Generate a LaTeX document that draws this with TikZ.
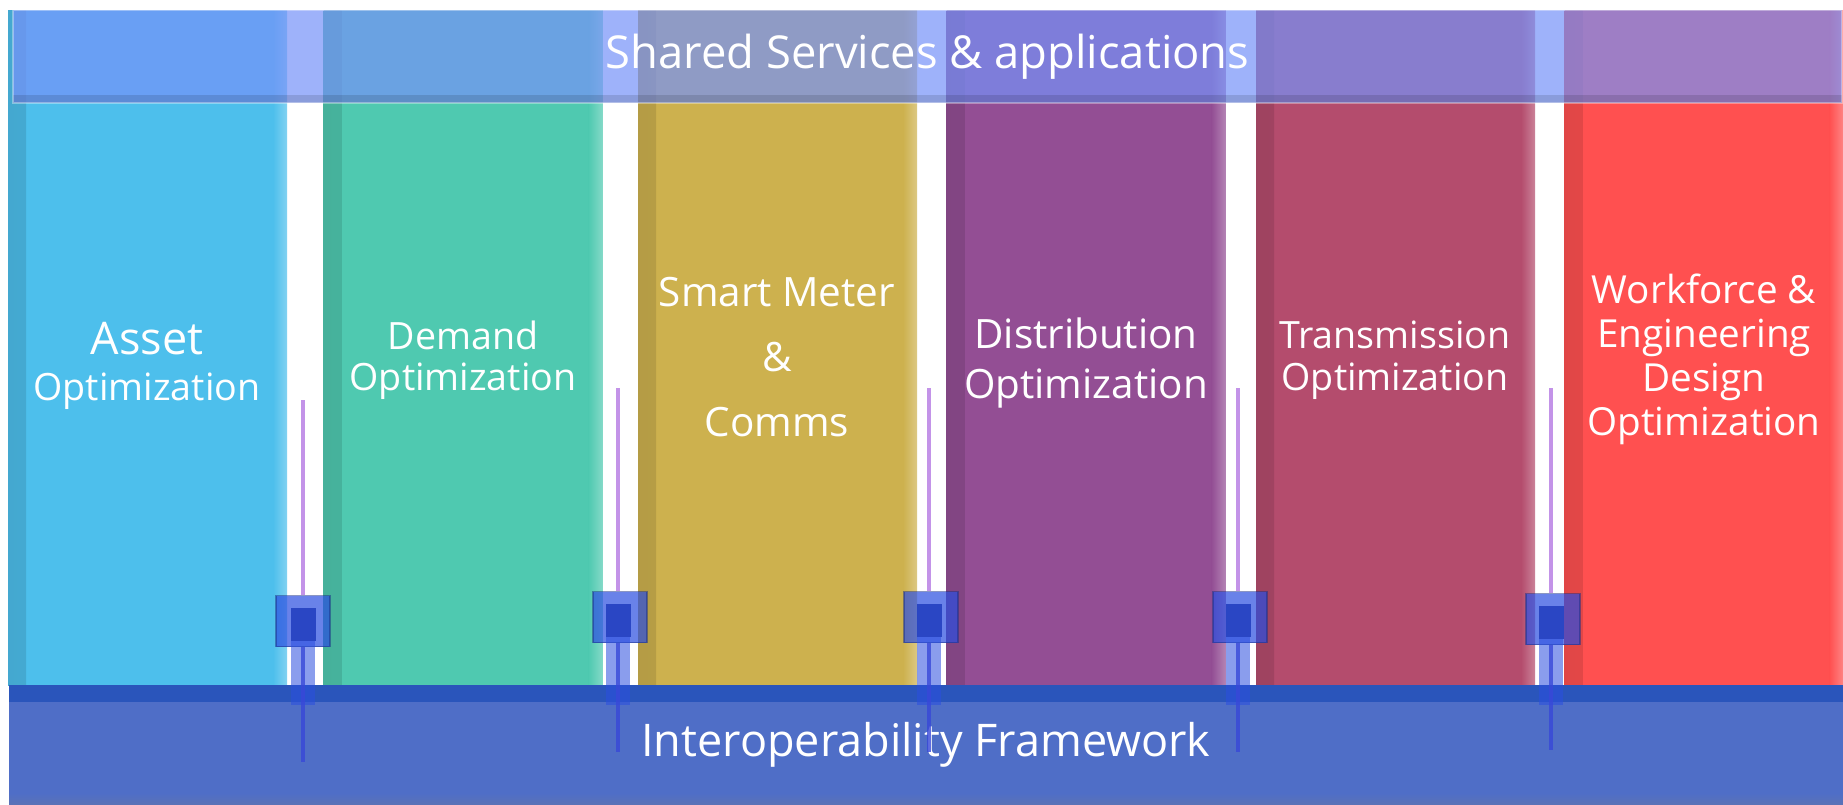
\documentclass[tikz,border=0pt]{standalone}
\usepackage{fontspec}
\setmainfont{Open Sans}

\definecolor{assetblue}{HTML}{4DBFEC}
\definecolor{demandteal}{HTML}{4FC9B0}
\definecolor{metergold}{HTML}{CDB14E}
\definecolor{distpurple}{HTML}{934E94}
\definecolor{transrose}{HTML}{B44C6D}
\definecolor{workred}{HTML}{FF5050}
\definecolor{sharedblue}{HTML}{7692F8}
\definecolor{interblue}{HTML}{4F6EC7}
\definecolor{interdark}{HTML}{2A55BB}
\definecolor{portblue}{HTML}{2A4EE0}
\definecolor{coreblue}{HTML}{1532B8}
\definecolor{linkpurple}{HTML}{C393E8}
\definecolor{footblue}{HTML}{3848D8}

\tikzset{
  pillar/.style={rectangle, inner sep=0pt, minimum width=27.9mm, minimum height=67.5mm, fill=#1,
    path picture={
      \shade[left color=#1!88!black, right color=#1] (path picture bounding box.south west) rectangle ([xshift=1.8mm]path picture bounding box.north west);
      \shade[left color=#1, right color=#1!70!white] ([xshift=-1.4mm]path picture bounding box.south east) rectangle (path picture bounding box.north east);}},
  lbl/.style={text=white, align=center, inner sep=0pt},
  sharedbar/.style={rectangle, inner sep=0pt, minimum width=182.9mm, minimum height=9.3mm,
    fill=sharedblue, fill opacity=0.7, text opacity=1, draw=white, draw opacity=0.35, line width=0.6pt,
    text=white, font=\fontsize{12.9}{15}\selectfont,
    path picture={\fill[black, opacity=0.12] (path picture bounding box.south west) rectangle ([yshift=0.8mm]path picture bounding box.south east);}},
  basebar/.style={rectangle, inner sep=0pt, minimum width=183.4mm, minimum height=12mm,
    fill=interblue, text=white, font=\fontsize{12.8}{15}\selectfont,
    path picture={
      \fill[interdark] ([yshift=-1.7mm]path picture bounding box.north west) rectangle (path picture bounding box.north east);
      \shade[top color=interblue, bottom color=interblue!75!gray] (path picture bounding box.south west) rectangle ([yshift=1.2mm]path picture bounding box.south east);}},
  port/.style={rectangle, inner sep=0pt, minimum width=5.4mm, minimum height=5.1mm,
    fill=portblue, fill opacity=0.7, draw=portblue!60!black, draw opacity=0.5},
  portcore/.style={rectangle, inner sep=0pt, minimum width=2.5mm, minimum height=3.3mm,
    fill=coreblue, fill opacity=0.75},
  link/.style={linkpurple, line width=1.4pt},
  stem/.style={portblue, opacity=0.55, line width=7.1pt},
  foot/.style={footblue, opacity=0.8, line width=1.4pt}
}

\begin{document}
\begin{tikzpicture}[x=0.1mm, y=-0.1mm]
\fill[white] (0,0) rectangle (1843,805);
\useasboundingbox (0,0) rectangle (1843,805);

% columns
\node (asset) [pillar=assetblue] at (147.5,347.5) {};
\node (demand) [pillar=demandteal] at (463,347.5) {};
\node (meter) [pillar=metergold] at (777.5,347.5) {};
\node (dist) [pillar=distpurple] at (1086,347.5) {};
\node (trans) [pillar=transrose] at (1395.5,347.5) {};
\node (work) [pillar=workred] at (1704,347.5) {};

\node (assettxt) [lbl, font=\fontsize{10.7}{13}\selectfont] at (147,366) {{\fontsize{12.8}{14}\selectfont Asset}\\Optimization};
\node (demandtxt) [lbl, font=\fontsize{10.7}{11.7}\selectfont] at (463,360) {Demand\\Optimization};
\node (metertxt) [lbl, font=\fontsize{11.5}{12.5}\selectfont] at (777,357) {Smart Meter\\[6pt]\&\\[6pt]Comms};
\node (disttxt) [lbl, font=\fontsize{11.5}{14.5}\selectfont] at (1086,363) {Distribution\\Optimization};
\node (transtxt) [lbl, font=\fontsize{10.7}{12}\selectfont] at (1395,360) {Transmission\\Optimization};
\node (worktxt) [lbl, font=\fontsize{11}{12.5}\selectfont] at (1704,359) {Workforce \&\\Engineering\\Design\\Optimization};

% bars
\node (shared) [sharedbar] at (927.5,56.5) {Shared Services \& applications};
\node (inter) [basebar] at (926,745) {Interoperability Framework};

% links between the columns
\coordinate (head1) at (303,400);
\node (sq1) [port] at (303,621) {};
\node (core1) [portcore] at (303,624) {};
\coordinate (stem1) at (303,705);
\coordinate (foot1) at (303,762);
\draw[link] (head1) -- (sq1);
\draw[stem] (core1.south) -- (stem1);
\draw[foot] (sq1.south) -- (foot1);

\coordinate (head2) at (618,388);
\node (sq2) [port] at (620,617) {};
\node (core2) [portcore] at (618,620) {};
\coordinate (stem2) at (618,705);
\coordinate (foot2) at (618,752);
\draw[link] (head2) -- (sq2.north -| head2);
\draw[stem] (core2.south) -- (stem2);
\draw[foot] (sq2.south -| foot2) -- (foot2);

\coordinate (head3) at (929,388);
\node (sq3) [port] at (931,617) {};
\node (core3) [portcore] at (929,620) {};
\coordinate (stem3) at (929,705);
\coordinate (foot3) at (929,752);
\draw[link] (head3) -- (sq3.north -| head3);
\draw[stem] (core3.south) -- (stem3);
\draw[foot] (sq3.south -| foot3) -- (foot3);

\coordinate (head4) at (1238,388);
\node (sq4) [port] at (1240,617) {};
\node (core4) [portcore] at (1238,620) {};
\coordinate (stem4) at (1238,705);
\coordinate (foot4) at (1238,752);
\draw[link] (head4) -- (sq4.north -| head4);
\draw[stem] (core4.south) -- (stem4);
\draw[foot] (sq4.south -| foot4) -- (foot4);

\coordinate (head5) at (1551,388);
\node (sq5) [port] at (1553,619) {};
\node (core5) [portcore] at (1551,622) {};
\coordinate (stem5) at (1551,705);
\coordinate (foot5) at (1551,750);
\draw[link] (head5) -- (sq5.north -| head5);
\draw[stem] (core5.south) -- (stem5);
\draw[foot] (sq5.south -| foot5) -- (foot5);

\end{tikzpicture}
\end{document}
